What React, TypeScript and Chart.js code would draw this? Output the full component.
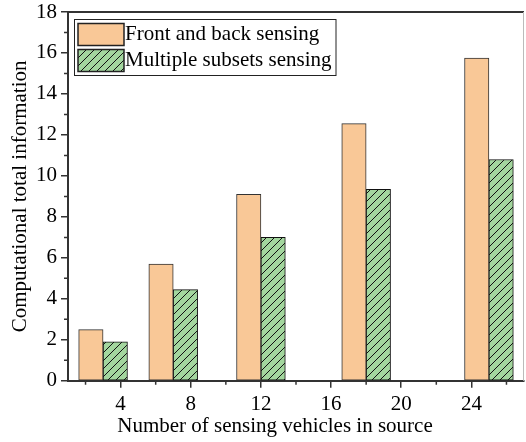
import React, { useEffect, useRef } from 'react';
import { Chart, registerables } from 'chart.js';

Chart.register(...registerables);

// ---- data ----
const xPositions = [3, 7, 12, 18, 25];
const frontBackValues = [2.5, 5.7, 9.1, 12.55, 15.75];
const multipleSubsetsValues = [1.9, 4.45, 7.0, 9.35, 10.8];
const seriesLabels = ['Front and back sensing', 'Multiple subsets sensing'];
const xMajorTicks = [4, 8, 12, 16, 20, 24];
const xMinorTicks = [2, 6, 10, 14, 18, 22, 26];
const yMajorTicks = [0, 2, 4, 6, 8, 10, 12, 14, 16, 18];
const yMinorTicks = [1, 3, 5, 7, 9, 11, 13, 15, 17];
const xTitle = 'Number of sensing vehicles in source';
const yTitle = 'Computational total information';

const FONT = "'Liberation Serif', 'Times New Roman', serif";
const ORANGE = '#F9C897';
const GREEN = '#A3D69E';
const AXIS = '#333333';

function makeHatch(): CanvasPattern | string {
  const c = document.createElement('canvas');
  c.width = 8;
  c.height = 8;
  const g = c.getContext('2d');
  if (!g) return GREEN;
  g.fillStyle = GREEN;
  g.fillRect(0, 0, 8, 8);
  g.strokeStyle = '#111';
  g.lineWidth = 1;
  g.beginPath();
  g.moveTo(-1, 9);
  g.lineTo(9, -1);
  g.moveTo(-1, 1);
  g.lineTo(1, -1);
  g.moveTo(7, 9);
  g.lineTo(9, 7);
  g.stroke();
  const p = g.createPattern(c, 'repeat');
  return p || GREEN;
}

const extrasPlugin = {
  id: 'extras',
  afterDraw(chart: any) {
    const { ctx, chartArea } = chart;
    const { left, right, top, bottom } = chartArea;
    const xs = chart.scales.x;
    const ys = chart.scales.y;
    ctx.save();
    // minor ticks
    ctx.strokeStyle = AXIS;
    ctx.lineWidth = 1.5;
    ctx.beginPath();
    xMinorTicks.forEach((v) => {
      const px = xs.getPixelForValue(v);
      if (px < left || px > right) return;
      ctx.moveTo(px, bottom);
      ctx.lineTo(px, bottom + 4);
    });
    yMinorTicks.forEach((v) => {
      const py = ys.getPixelForValue(v);
      ctx.moveTo(left - 4, py);
      ctx.lineTo(left, py);
    });
    ctx.stroke();
    // top frame
    ctx.lineWidth = 2;
    ctx.strokeStyle = AXIS;
    ctx.beginPath();
    ctx.moveTo(left - 1, top);
    ctx.lineTo(right, top);
    ctx.stroke();
    // right frame
    ctx.lineWidth = 1;
    ctx.strokeStyle = '#bbbbbb';
    ctx.beginPath();
    ctx.moveTo(right - 0.5, top);
    ctx.lineTo(right - 0.5, bottom);
    ctx.stroke();

    // legend box
    const ds = chart.data.datasets;
    ctx.font = `21px ${FONT}`;
    const boxL = left + 6;
    const boxT = top + 7;
    const swL = boxL + 4;
    const swW = 46;
    const swH = 22;
    const textX = swL + swW + 1;
    let maxW = 0;
    ds.forEach((d: any) => {
      maxW = Math.max(maxW, ctx.measureText(d.label).width);
    });
    const boxW = textX + maxW + 4 - boxL;
    const boxH = 56;
    ctx.fillStyle = '#ffffff';
    ctx.fillRect(boxL, boxT, boxW, boxH);
    ctx.lineWidth = 1;
    ctx.strokeStyle = '#222';
    ctx.strokeRect(boxL + 0.5, boxT + 0.5, boxW, boxH);
    ds.forEach((d: any, i: number) => {
      const sy = boxT + 4.5 + i * 26;
      ctx.fillStyle = d.backgroundColor;
      ctx.fillRect(swL, sy, swW, swH);
      ctx.lineWidth = 1.5;
      ctx.strokeStyle = '#222';
      ctx.strokeRect(swL, sy, swW, swH);
      ctx.fillStyle = '#000';
      ctx.textBaseline = 'middle';
      ctx.textAlign = 'left';
      ctx.fillText(d.label, textX, sy + swH / 2);
    });
    ctx.restore();
  },
};

export default function App() {
  const ref = useRef<HTMLCanvasElement | null>(null);
  useEffect(() => {
    if (!ref.current) return;
    const hatch = makeHatch();
    const chart = new Chart(ref.current, {
      type: 'bar',
      data: {
        datasets: [
          {
            label: seriesLabels[0],
            data: xPositions.map((x, i) => ({ x, y: frontBackValues[i] })),
            backgroundColor: ORANGE,
            borderColor: '#333',
            borderWidth: 1,
            borderSkipped: false,
            barThickness: 24.4,
          },
          {
            label: seriesLabels[1],
            data: xPositions.map((x, i) => ({ x, y: multipleSubsetsValues[i] })),
            backgroundColor: hatch as any,
            borderColor: '#111',
            borderWidth: 1,
            borderSkipped: false,
            barThickness: 24.4,
          },
        ],
      },
      options: {
        animation: false,
        responsive: false,
        devicePixelRatio: 1,
        layout: { padding: { left: 26, right: 2, top: 12, bottom: 0 } },
        plugins: {
          legend: { display: false },
          tooltip: { enabled: false },
          title: {
            display: true,
            position: 'bottom',
            text: xTitle,
            color: '#000',
            font: { family: FONT, size: 21, weight: 'normal' },
            padding: { top: 0, bottom: 3 },
          },
        },
        scales: {
          x: {
            type: 'linear',
            min: 1,
            max: 27,
            offset: false,
            afterBuildTicks: (s: any) => {
              s.ticks = xMajorTicks.map((v) => ({ value: v }));
            },
            afterFit: (s: any) => {
              s.height = 33;
              s.paddingLeft = 0;
              s.paddingRight = 0;
            },
            grid: {
              offset: false,
              drawOnChartArea: false,
              drawTicks: true,
              tickLength: 7,
              color: AXIS,
              lineWidth: 1.5,
            },
            border: { display: true, color: AXIS, width: 2 },
            ticks: {
              color: '#000',
              padding: 4,
              maxRotation: 0,
              autoSkip: false,
              font: { family: FONT, size: 21 },
            },
          },
          y: {
            type: 'linear',
            min: 0,
            max: 18,
            afterBuildTicks: (s: any) => {
              s.ticks = yMajorTicks.map((v) => ({ value: v }));
            },
            afterFit: (s: any) => {
              s.width = 42;
              s.paddingTop = 0;
              s.paddingBottom = 0;
            },
            grid: {
              drawOnChartArea: false,
              drawTicks: true,
              tickLength: 7,
              color: AXIS,
              lineWidth: 1.5,
            },
            border: { display: true, color: AXIS, width: 2 },
            ticks: {
              color: '#000',
              padding: 4,
              autoSkip: false,
              font: { family: FONT, size: 21 },
            },
            title: {
              display: true,
              text: yTitle,
              color: '#000',
              font: { family: FONT, size: 21, weight: 'normal' },
              padding: { top: -18, bottom: 0 },
            },
          },
        },
      },
      plugins: [extrasPlugin],
    } as any);
    return () => chart.destroy();
  }, []);
  return (
    <div style={{ position: 'absolute', left: 0, top: 0, width: 526, height: 442, background: '#fff' }}>
      <canvas ref={ref} width={526} height={442} style={{ width: 526, height: 442, display: 'block' }} />
    </div>
  );
}
